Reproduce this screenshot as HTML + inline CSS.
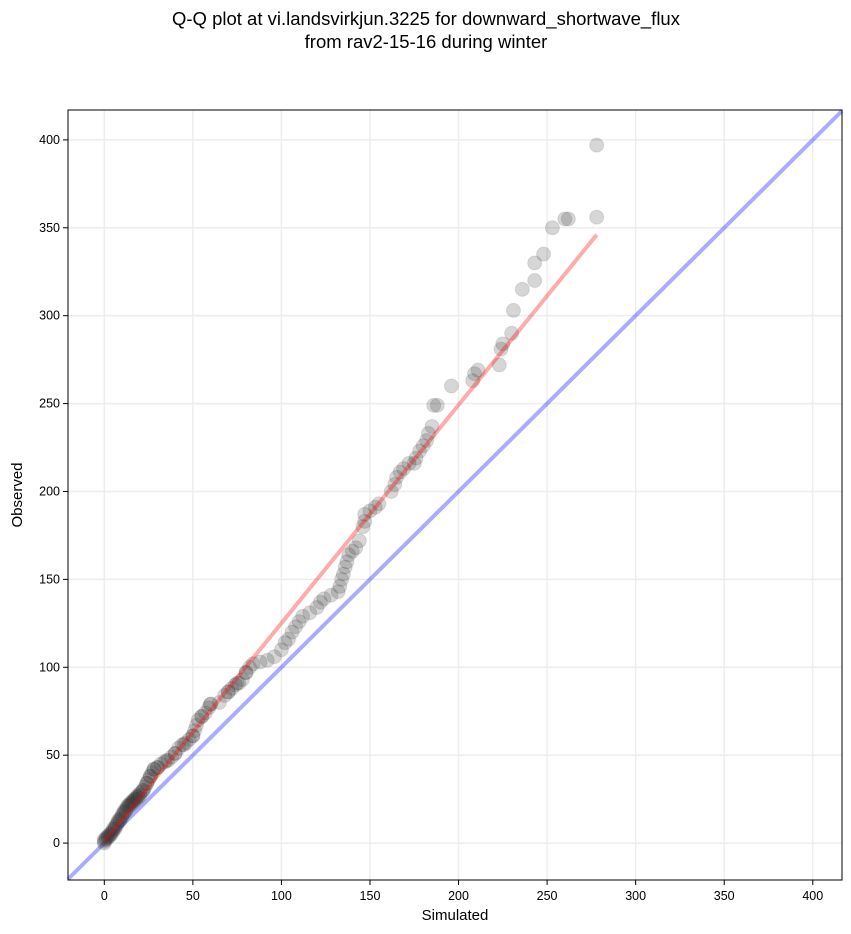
<!DOCTYPE html>
<html><head><meta charset="utf-8"><style>
html,body{margin:0;padding:0;background:#fff;}
svg{display:block;font-family:"Liberation Sans",sans-serif;}
</style></head><body>
<svg id="chart" width="851" height="934" viewBox="0 0 851 934" xmlns="http://www.w3.org/2000/svg">
<text x="426" y="25" text-anchor="middle" font-size="18.5">Q-Q plot at vi.landsvirkjun.3225 for downward_shortwave_flux</text>
<text x="426" y="48" text-anchor="middle" font-size="18.5">from rav2-15-16 during winter</text>
<g id="grid"></g>
<g id="lines"></g>
<g id="pts"></g>
<g id="axes"></g>
<text x="455" y="920" text-anchor="middle" font-size="15">Simulated</text>
<text x="22" y="495" text-anchor="middle" font-size="15" transform="rotate(-90 22 495)">Observed</text>
</svg>
<script>
const xTicks=[0,50,100,150,200,250,300,350,400];
const yTicks=[0,50,100,150,200,250,300,350,400];
const simulated=[0,0,1,2,3,4,5,6,7,8,9,10,11,12,13,14,15,16,17,18,19,20,21,22,23,24,25,26,27,28,30,32,34,36,38,40,42,44,46,48,50,51,52,53,55,57,59,60,65,68,70,72,74,76,78,80,82,84,88,92,96,100,102,104,106,108,110,112,116,120,122,124,128,132,133,134,135,136,137,138,140,142,144,146,147,147,150,153,155,162,164,165,167,169,172,175,176,178,180,182,183,185,186,188,196,208,209,211,223,224,225,230,231,236,243,243,248,253,260,262,278,278,
0,1,2,3,4,5,6,7,8,9,10,11,12,13,14,15,16,17,18,19,20,22,24,26,28,30,35,40,45,50,55,60,70,75,80];
const observed=[0,2,3,4,5,6,8,9,11,13,14,16,18,19,21,22,23,24,25,26,27,28,29,30,32,34,36,38,40,42,43,45,46,47,49,51,54,56,57,59,61,64,67,70,72,74,77,79,80,84,86,88,90,91,93,97,100,102,103,104,106,110,114,116,120,123,126,129,131,134,137,139,141,143,146,150,153,157,160,164,166,168,172,180,183,187,189,191,193,200,204,208,211,213,216,216,219,223,226,229,233,237,249,249,260,263,267,269,272,281,284,290,303,315,320,330,335,350,355,355,356,397,
1,2,3,4,5,7,8,10,12,13,15,17,18,20,21,22,23,24,25,26,27,30,34,38,42,43,47,51,56,61,72,79,86,91,97];
const fitLine=[[0,1],[278,346]];
const xMin=-20.5,xMax=416.5,yMin=-21,yMax=417;
const L=68,R=842,T=110,B=880;
const sx=v=>L+(v-xMin)/(xMax-xMin)*(R-L);
const sy=v=>B-(v-yMin)/(yMax-yMin)*(B-T);
const NS="http://www.w3.org/2000/svg";
function mk(parent,tag,attrs){const e=document.createElementNS(NS,tag);for(const k in attrs)e.setAttribute(k,attrs[k]);document.getElementById(parent).appendChild(e);return e;}
xTicks.forEach(t=>{
  const g=mk('grid','line',{x1:sx(t),x2:sx(t),y1:T,y2:B,stroke:'#ededed','stroke-width':1.5});
  
  
  const k=mk('axes','line',{x1:sx(t),x2:sx(t),y1:B,y2:B+5,stroke:'#000'});
  
  
  const l=mk('axes','text',{x:sx(t),y:B+20,'text-anchor':'middle','font-size':12.5});
  l.textContent=t;
  
  
});
yTicks.forEach(t=>{
  const g=mk('grid','line',{x1:L,x2:R,y1:sy(t),y2:sy(t),stroke:'#ededed','stroke-width':1.5});
  
  
  const k=mk('axes','line',{x1:L-5,x2:L,y1:sy(t),y2:sy(t),stroke:'#000'});
  
  
  const l=mk('axes','text',{x:L-8,y:sy(t)+4,'text-anchor':'end','font-size':12.5});
  l.textContent=t;
  
  
});
const ref=mk('lines','line',{x1:sx(xMin),y1:sy(xMin),x2:sx(xMax),y2:sy(xMax),stroke:'#0000ff','stroke-opacity':0.33,'stroke-width':4});


simulated.forEach((s,i)=>{
  const c=mk('pts','circle',{cx:sx(s),cy:sy(observed[i]),r:7,fill:'#333','fill-opacity':0.2,stroke:'#333','stroke-opacity':0.12});
  
  
});
const fl=mk('pts','line',{x1:sx(fitLine[0][0]),y1:sy(fitLine[0][1]),x2:sx(fitLine[1][0]),y2:sy(fitLine[1][1]),stroke:'#ff0000','stroke-opacity':0.33,'stroke-width':4});


const fr=mk('axes','rect',{x:L,y:T,width:R-L,height:B-T,fill:'none',stroke:'#000','stroke-width':1});


</script>
</body></html>
